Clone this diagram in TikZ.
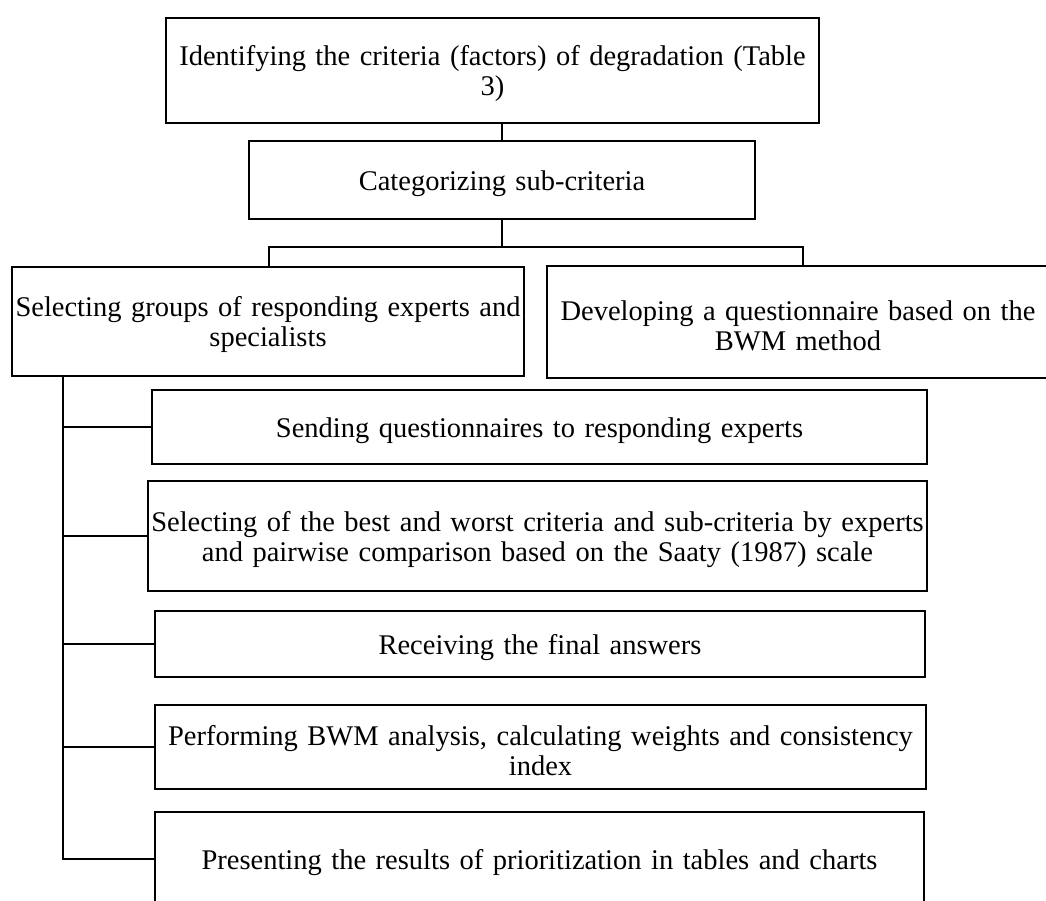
\documentclass[tikz,border=0pt]{standalone}
\usepackage{fontspec}
\setmainfont{Liberation Serif}
\newcommand\txtstrut{\rule{0pt}{27pt}}
\begin{document}
\begin{tikzpicture}[x=1pt,y=-1pt,
  box/.style={draw, line width=2pt, inner sep=0pt, align=center,
    font=\fontsize{28.5}{30.5}\selectfont},
  link/.style={line width=2pt}]
\useasboundingbox (0,0) rectangle (1046,900);
\node[box, minimum width=653pt, minimum height=105pt, text width=650pt] (b1) at (492.5,70)
  {\txtstrut Identifying the criteria (factors) of degradation (Table\\3)};
\node[box, minimum width=506pt, minimum height=78pt, text width=500pt] (b2) at (502,180)
  {\txtstrut Categorizing sub-criteria};
\node[box, minimum width=512pt, minimum height=109pt, text width=512pt] (b3) at (268,321)
  {\txtstrut Selecting groups of responding experts and\\specialists};
\node[box, minimum width=502pt, minimum height=112pt, text width=500pt] (b4) at (798,322)
  {\txtstrut Developing a questionnaire based on the\\BWM method};
\node[box, minimum width=775pt, minimum height=74pt, text width=770pt] (b5) at (539.5,427)
  {\txtstrut Sending questionnaires to responding experts};
\node[box, minimum width=779pt, minimum height=110pt, text width=779pt] (b6) at (537.5,536)
  {\txtstrut Selecting of the best and worst criteria and sub-criteria by experts\\and pairwise comparison based on the Saaty (1987) scale};
\node[box, minimum width=770pt, minimum height=66pt, text width=765pt] (b7) at (540,644)
  {\txtstrut Receiving the final answers};
\node[box, minimum width=771pt, minimum height=84pt, text width=771pt] (b8) at (540.5,747)
  {\txtstrut Performing BWM analysis, calculating weights and consistency\\index};
\node[box, minimum width=769pt, minimum height=94pt, text width=765pt] (b9) at (539.5,859)
  {\txtstrut Presenting the results of prioritization in tables and charts};
\coordinate (split) at (502,247);
\coordinate (trunk) at (63,859);
\draw[link] (b1.south -| b2.north) -- (b2.north);
\draw[link] (b2.south) -- (split);
\draw[link] (b3.north -| 269,0) |- (split) -| (b4.north -| 803,0);
\draw[link] (b3.south -| trunk) -- (trunk) -- (b9.west);
\draw[link] (b5.west -| trunk) -- (b5.west);
\draw[link] (b6.west -| trunk) -- (b6.west);
\draw[link] (b7.west -| trunk) -- (b7.west);
\draw[link] (b8.west -| trunk) -- (b8.west);
\end{tikzpicture}
\end{document}
